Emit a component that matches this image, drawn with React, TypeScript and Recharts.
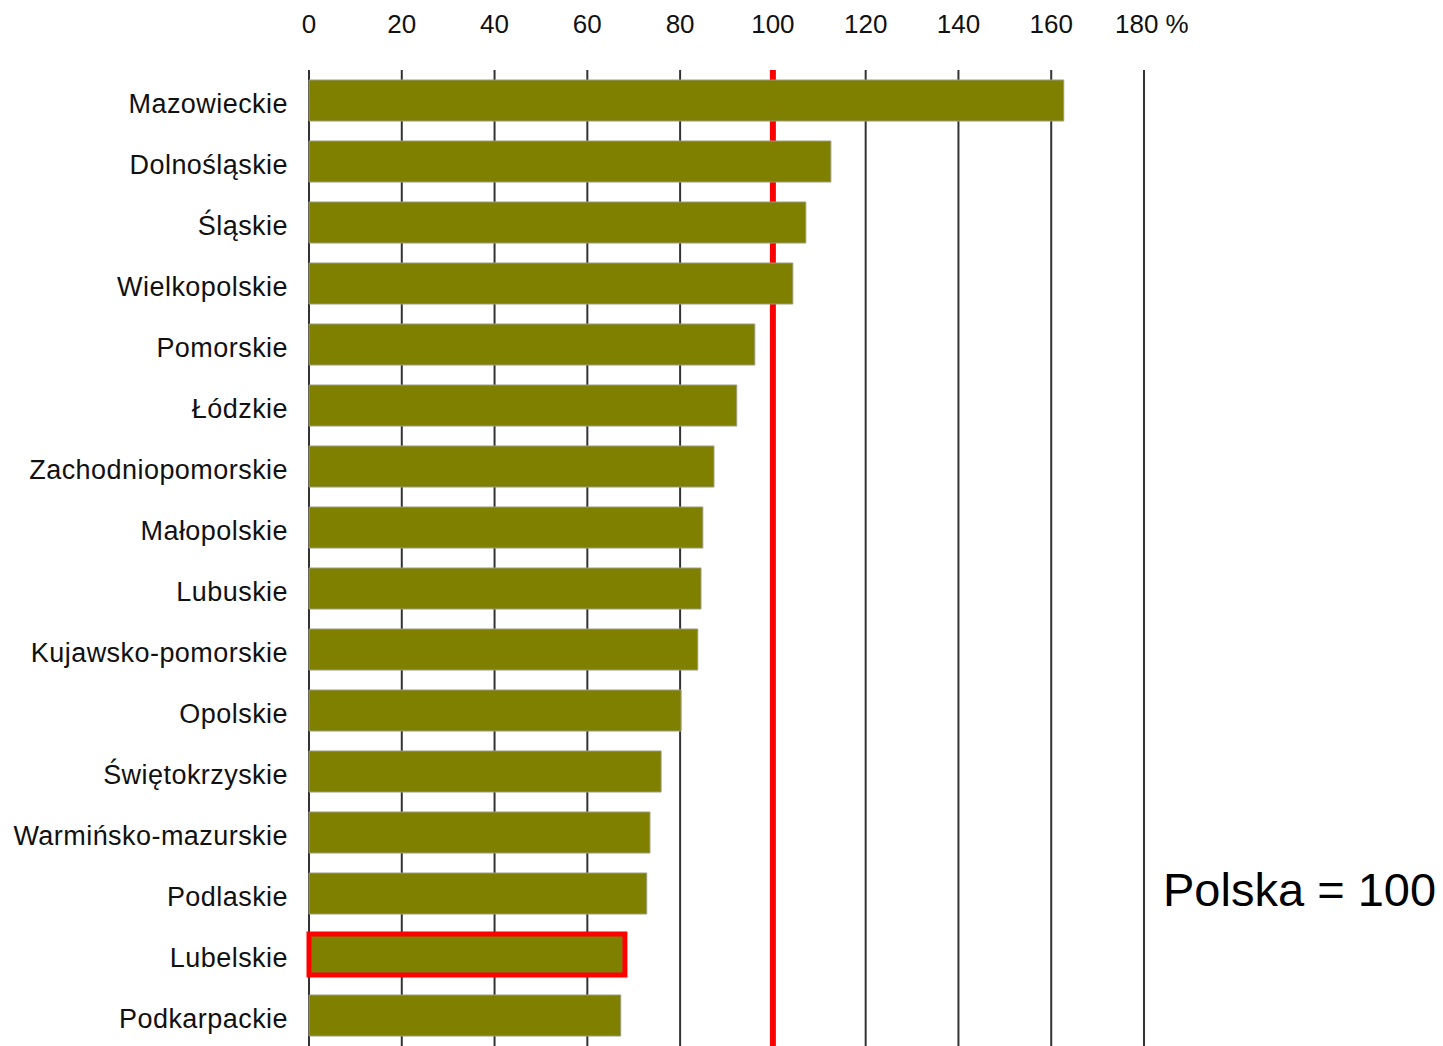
import React from 'react';
import { BarChart, Bar, XAxis, YAxis, CartesianGrid, ReferenceLine, Cell } from 'recharts';

const regions = [
  'Mazowieckie',
  'Dolnośląskie',
  'Śląskie',
  'Wielkopolskie',
  'Pomorskie',
  'Łódzkie',
  'Zachodniopomorskie',
  'Małopolskie',
  'Lubuskie',
  'Kujawsko-pomorskie',
  'Opolskie',
  'Świętokrzyskie',
  'Warmińsko-mazurskie',
  'Podlaskie',
  'Lubelskie',
  'Podkarpackie',
];
const values = [162.7, 112.5, 107.1, 104.3, 96.1, 92.2, 87.3, 84.9, 84.5, 83.8, 80.2, 75.9, 73.5, 72.8, 68.1, 67.2];
const xTicks = [0, 20, 40, 60, 80, 100, 120, 140, 160, 180];
const highlighted = 'Lubelskie';
const referenceValue = 100;
const noteText = 'Polska = 100';

const data = regions.map((name, i) => ({ name, value: values[i] }));

const FONT = '"Liberation Sans", Arial, sans-serif';

const TopTick = (props: any) => {
  const { x, y, payload } = props;
  const v = payload.value;
  if (v === 180) {
    return (
      <text x={x - 29} y={y} dy={-29} textAnchor="start" fill="#111" fontSize={26} fontFamily={FONT}>
        {`${v} %`}
      </text>
    );
  }
  return (
    <text x={x} y={y} dy={-29} textAnchor="middle" fill="#111" fontSize={26} fontFamily={FONT}>
      {v}
    </text>
  );
};

const LeftTick = (props: any) => {
  const { x, y, payload } = props;
  return (
    <text
      x={x}
      y={y}
      dy={12}
      textAnchor="end"
      fill="#111"
      fontSize={27}
      fontFamily={FONT}
      letterSpacing={0.45}
    >
      {payload.value}
    </text>
  );
};

export default function App() {
  return (
    <div style={{ position: 'absolute', left: 0, top: 0, width: 1443, height: 1046, background: '#fff' }}>
      <BarChart
        width={1443}
        height={1046}
        data={data}
        layout="vertical"
        margin={{ top: 0, right: 299, bottom: 0, left: 0 }}
        barSize={41}
      >
        <CartesianGrid horizontal={false} vertical={true} stroke="#333" strokeWidth={2} />
        <ReferenceLine x={referenceValue} stroke="#ff0000" strokeWidth={6} zIndex={0} />
        <XAxis
          type="number"
          orientation="top"
          domain={[0, 180]}
          ticks={xTicks}
          height={70}
          axisLine={false}
          tickLine={false}
          tick={<TopTick />}
          interval={0}
        />
        <YAxis
          type="category"
          dataKey="name"
          width={309}
          axisLine={false}
          tickLine={false}
          tickSize={0}
          tickMargin={21}
          interval={0}
          tick={<LeftTick />}
        />
        <Bar dataKey="value" isAnimationActive={false} fill="#808000" stroke="#999" strokeWidth={1}>
          {data.map((d) => (
            <Cell
              key={d.name}
              fill="#808000"
              stroke={d.name === highlighted ? '#ff0000' : '#9a9a80'}
              strokeWidth={d.name === highlighted ? 5 : 1}
            />
          ))}
        </Bar>
      </BarChart>
      <div
        style={{
          position: 'absolute',
          left: 1163,
          top: 866,
          fontFamily: FONT,
          fontSize: 47,
          color: '#000',
          whiteSpace: 'nowrap',
          lineHeight: 1,
        }}
      >
        {noteText}
      </div>
    </div>
  );
}
